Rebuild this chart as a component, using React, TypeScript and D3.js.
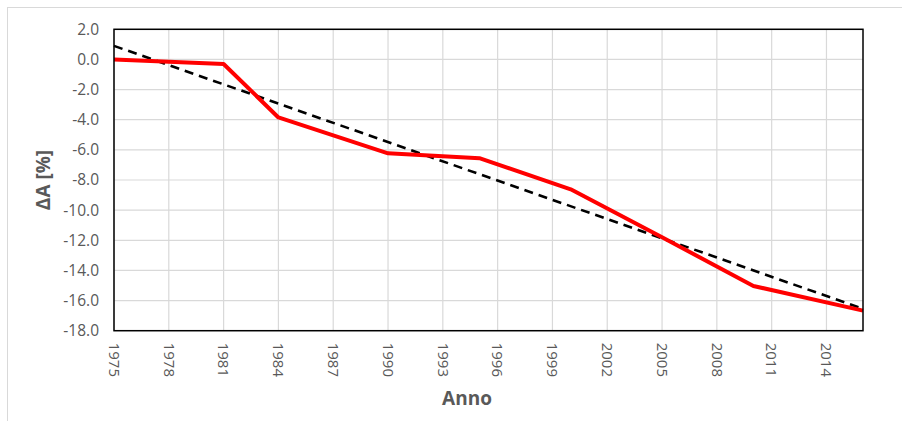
import React from "react";
import * as d3 from "d3";

const years = [1975, 1981, 1984, 1990, 1995, 2000, 2005, 2010, 2016];
const deltaA = [0.0, -0.3, -3.85, -6.23, -6.55, -8.62, -11.8, -15.03, -16.67];
const trendYears = [1975, 2016];
const trendValues = [0.9, -16.55];
const xTicks = [1975, 1978, 1981, 1984, 1987, 1990, 1993, 1996, 1999, 2002, 2005, 2008, 2011, 2014];
const yTicks = [2, 0, -2, -4, -6, -8, -10, -12, -14, -16, -18];

const W = 902, H = 421;
const L = 114, R = 863, T = 29.3, B = 330.7;
const FONT = "'Open Sans', 'Liberation Sans', sans-serif";
const GREY = "#595959";

export default function App() {
  const x = d3.scaleLinear().domain([1975, 2016]).range([L, R]);
  const y = d3.scaleLinear().domain([2, -18]).range([T, B]);
  const line = d3.line<[number, number]>().x((d) => x(d[0])).y((d) => y(d[1]));
  const dataPts: [number, number][] = years.map((yr, i) => [yr, deltaA[i]]);
  const trendPts: [number, number][] = trendYears.map((yr, i) => [yr, trendValues[i]]);

  return (
    <svg width={W} height={H} style={{ position: "absolute", left: 0, top: 0, background: "#fff" }}>
      <rect x={7.5} y={7.5} width={1000} height={1000} fill="#fff" stroke="#d9d9d9" strokeWidth={1} />
      {yTicks.map((t) => (
        <line key={"gy" + t} x1={L} x2={R} y1={y(t)} y2={y(t)} stroke="#d9d9d9" strokeWidth={1.2} />
      ))}
      {xTicks.map((t) => (
        <line key={"gx" + t} x1={x(t)} x2={x(t)} y1={T} y2={B} stroke="#d9d9d9" strokeWidth={1.2} />
      ))}
      <path d={line(trendPts) || ""} fill="none" stroke="#000" strokeWidth={2.6} strokeDasharray="9,6" />
      <path d={line(dataPts) || ""} fill="none" stroke="#ff0000" strokeWidth={4} strokeLinejoin="round" />
      <rect x={L} y={T} width={R - L} height={B - T} fill="none" stroke="#000" strokeWidth={1.5} />
      {yTicks.map((t) => (
        <text key={"ty" + t} x={99} y={y(t)} dy="0.35em" textAnchor="end" fontFamily={FONT} fontSize={15.5} fill={GREY}>
          {t.toFixed(1)}
        </text>
      ))}
      {xTicks.map((t) => (
        <text
          key={"tx" + t}
          transform={`translate(${x(t)},${B + 12}) rotate(90)`}
          dy="0.35em"
          textAnchor="start"
          fontFamily={FONT}
          fontSize={15}
          fill={GREY}
        >
          {t}
        </text>
      ))}
      <text x={467} y={405} textAnchor="middle" fontFamily={FONT} fontSize={19} fontWeight="bold" fill={GREY}>
        Anno
      </text>
      <text
        transform={`translate(50,${(T + B) / 2}) rotate(-90)`}
        textAnchor="middle"
        fontFamily={FONT}
        fontSize={19}
        fontWeight="bold"
        fill={GREY}
      >
        ΔA [%]
      </text>
    </svg>
  );
}
